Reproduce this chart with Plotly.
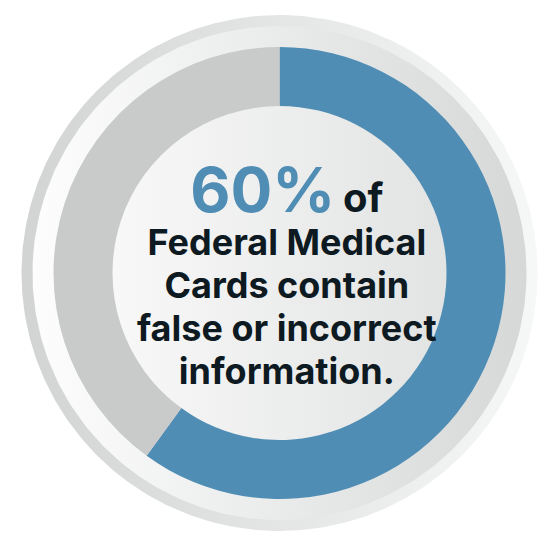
import numpy as np
import plotly.graph_objects as go

# Data
labels = ["False or incorrect", "Correct"]
values = [60, 40]
slice_colors = ["#4F8DB5", "#C9CACA"]
headline = "60%"
lines = ["Federal Medical", "Cards contain", "false or incorrect", "information."]

W, H = 549, 550
cx, cy = 271.5, 550 - 265
R_OUT = 226

fig = go.Figure()

def disc(r, c_left, c_right):
    t = np.linspace(0, 2 * np.pi, 361)
    fig.add_trace(go.Scatter(
        x=cx + r * np.cos(t), y=cy + r * np.sin(t),
        mode="lines", line=dict(width=0), fill="toself",
        fillgradient=dict(type="horizontal",
                          colorscale=[[0, c_left], [1, c_right]]),
        hoverinfo="skip", showlegend=False))

disc(258, "#d2d4d4", "#f6f7f7")
disc(247, "#fdfdfd", "#d6d8d8")
disc(167, "#f8f8f8", "#e2e3e3")

fig.add_trace(go.Pie(
    labels=labels, values=values, hole=167 / 226, sort=False,
    direction="clockwise", rotation=0,
    marker=dict(colors=slice_colors, line=dict(width=0)),
    textinfo="none", hoverinfo="label+percent", showlegend=False,
    domain=dict(x=[(cx - R_OUT) / W, (cx + R_OUT) / W],
                y=[(cy - R_OUT) / H, (cy + R_OUT) / H]),
))

font = "Inter, Lato, sans-serif"
dark = "#0E1A21"
text = (f"<span style='font-size:62px;color:#4F8DB5'>{headline}</span> "
        f"<span style='font-size:40px'>of</span><br>"
        + "<br>".join(f"<span style='font-size:36px'>{t}</span>" for t in lines))

fig.update_layout(
    width=W, height=H, margin=dict(l=0, r=0, t=0, b=0),
    paper_bgcolor="white", plot_bgcolor="white",
    xaxis=dict(range=[0, W], visible=False, domain=[0, 1], fixedrange=True),
    yaxis=dict(range=[0, H], visible=False, domain=[0, 1], fixedrange=True),
    annotations=[dict(
        text=text, xref="paper", yref="paper", x=279 / W, y=1 - 264 / H,
        xanchor="center", yanchor="middle", align="center", showarrow=False,
        font=dict(family=font, size=33, color=dark, weight=700))],
)
fig.write_html("out.html")
